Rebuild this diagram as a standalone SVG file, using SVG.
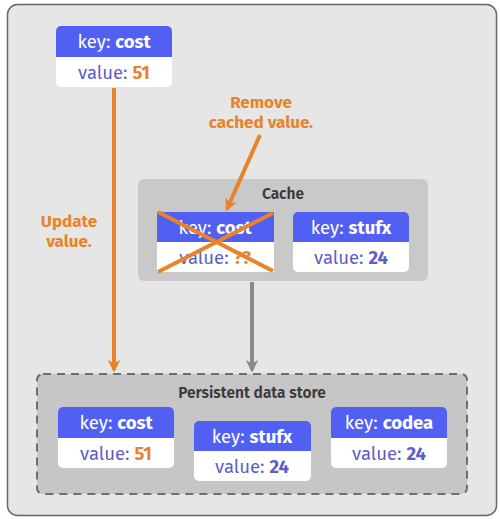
<svg xmlns="http://www.w3.org/2000/svg" width="500" height="519" viewBox="0 0 500 519">
<defs>
<style>
text{font-family:"Fira Sans","Open Sans","Noto Sans","Liberation Sans",sans-serif;text-anchor:middle}
.hd{fill:#5160f3}
.vb{fill:#ffffff}
.k{fill:#ffffff;font-size:18.5px}
.v{fill:#5b5fc9;font-size:18.5px}
.b{font-weight:bold}
.o{fill:#e8832a}
.lbl{fill:#e8832a;font-size:17px;font-weight:bold}
.ttl{fill:#3a3a3a;font-size:15.5px;font-weight:600}
</style>
<marker id="ao" viewBox="0 0 10 10" refX="8" refY="5" markerWidth="3.2" markerHeight="3.2" orient="auto" markerUnits="strokeWidth"><path d="M0,0 L10,5 L0,10 L3,5 Z" fill="#e8832a"/></marker>
<marker id="ag" viewBox="0 0 10 10" refX="8" refY="5" markerWidth="3.2" markerHeight="3.2" orient="auto" markerUnits="strokeWidth"><path d="M0,0 L10,5 L0,10 L3,5 Z" fill="#8a8a8a"/></marker>
</defs>
<rect x="7.5" y="4.5" width="489" height="511" rx="10" fill="#e6e6e6" stroke="#666" stroke-width="1.5"/>
<g id="cache">
<rect x="138" y="179" width="290" height="102" rx="6" fill="#c9c9c9"/>
<text class="ttl" x="283" y="199">Cache</text>
</g>
<g id="store">
<rect x="37" y="374" width="430" height="120" rx="6" fill="#c6c6c6" stroke="#6f6f6f" stroke-width="2" stroke-dasharray="8,6"/>
<text class="ttl" x="252" y="398">Persistent data store</text>
</g>
<g id="connectors">
<line x1="114" y1="88" x2="114" y2="370" stroke="#e8832a" stroke-width="4" marker-end="url(#ao)"/>
<line x1="252" y1="282" x2="252" y2="370" stroke="#8a8a8a" stroke-width="4" marker-end="url(#ag)"/>
<line x1="260" y1="135" x2="227" y2="209" stroke="#e8832a" stroke-width="4" marker-end="url(#ao)"/>
</g>
<g id="top-cost">
<rect x="56" y="26" width="116" height="61" rx="5" class="vb"/>
<path d="M56,57 V31 a5,5 0 0 1 5,-5 H167 a5,5 0 0 1 5,5 V57 Z" class="hd"/>
<text class="k" x="114" y="48">key: <tspan class="b">cost</tspan></text>
<text class="v" x="114" y="79">value: <tspan class="b o">51</tspan></text>
</g>
<g id="cache-cost">
<rect x="157" y="212" width="117" height="60" class="vb"/>
<rect x="157" y="212" width="117" height="30" class="hd"/>
<text class="k" x="215" y="234">key:  <tspan class="b">cost</tspan></text>
<text class="v" x="215" y="264">value: <tspan class="b o">??</tspan></text>
<line x1="158" y1="212" x2="273" y2="271" stroke="#e8832a" stroke-width="4"/>
<line x1="273" y1="213" x2="158" y2="272" stroke="#e8832a" stroke-width="4"/>
</g>
<g id="cache-stufx">
<rect x="293" y="212" width="116" height="60" rx="5" class="vb"/>
<path d="M293,242 V217 a5,5 0 0 1 5,-5 H404 a5,5 0 0 1 5,5 V242 Z" class="hd"/>
<text class="k" x="351" y="234">key: <tspan class="b">stufx</tspan></text>
<text class="v" x="351" y="264">value: <tspan class="b">24</tspan></text>
</g>
<g id="store-cost">
<rect x="58" y="407" width="116" height="61" rx="5" class="vb"/>
<path d="M58,438 V412 a5,5 0 0 1 5,-5 H169 a5,5 0 0 1 5,5 V438 Z" class="hd"/>
<text class="k" x="116" y="429">key: <tspan class="b">cost</tspan></text>
<text class="v" x="116" y="460">value: <tspan class="b o">51</tspan></text>
</g>
<g id="store-stufx">
<rect x="194" y="421" width="117" height="60" rx="5" class="vb"/>
<path d="M194,451 V426 a5,5 0 0 1 5,-5 H306 a5,5 0 0 1 5,5 V451 Z" class="hd"/>
<text class="k" x="252" y="443">key: <tspan class="b">stufx</tspan></text>
<text class="v" x="252" y="473">value: <tspan class="b">24</tspan></text>
</g>
<g id="store-codea">
<rect x="331" y="407" width="116" height="61" rx="5" class="vb"/>
<path d="M331,438 V412 a5,5 0 0 1 5,-5 H442 a5,5 0 0 1 5,5 V438 Z" class="hd"/>
<text class="k" x="389" y="429">key: <tspan class="b">codea</tspan></text>
<text class="v" x="389" y="460">value: <tspan class="b">24</tspan></text>
</g>
<g id="labels">
<text class="lbl" x="261" y="108">Remove</text>
<text class="lbl" x="261" y="128">cached value.</text>
<text class="lbl" x="69" y="227">Update</text>
<text class="lbl" x="69" y="247">value.</text>
</g>
</svg>
